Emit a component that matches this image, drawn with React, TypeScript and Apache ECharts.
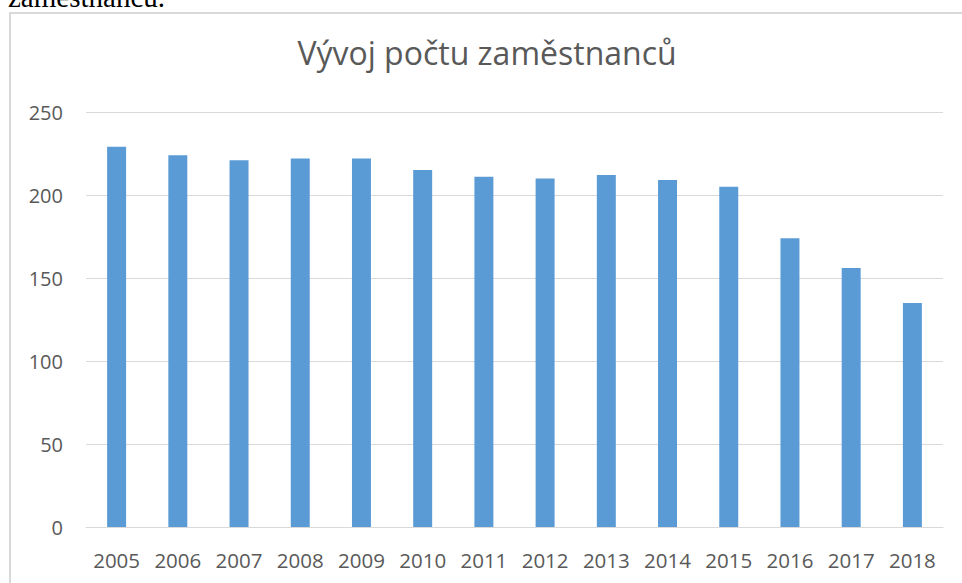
import React, { useEffect, useRef } from "react";
import * as echarts from "echarts";

const categories = ["2005", "2006", "2007", "2008", "2009", "2010", "2011", "2012", "2013", "2014", "2015", "2016", "2017", "2018"];
const employees = [229, 224, 221, 222, 222, 215, 211, 210, 212, 209, 205, 174, 156, 135];
const yTicks = [0, 50, 100, 150, 200, 250];
const chartTitle = "Vývoj počtu zaměstnanců";
const aboveText = "zaměstnanců.";

export default function App() {
  const ref = useRef<HTMLDivElement>(null);

  useEffect(() => {
    if (!ref.current) return;
    const chart = echarts.init(ref.current, undefined, { renderer: "svg" });
    const font = "'Open Sans', 'Noto Sans', sans-serif";
    chart.setOption({
      animation: false,
      title: {
        text: chartTitle,
        left: "center",
        top: 20,
        textStyle: { fontFamily: font, fontSize: 32, fontWeight: "normal", color: "#595959" },
      },
      grid: { left: 77, right: 22, top: 101, bottom: 56, containLabel: false },
      xAxis: {
        type: "category",
        data: categories,
        axisLine: { show: true, lineStyle: { color: "#d9d9d9", width: 1 } },
        axisTick: { show: false },
        axisLabel: { color: "#595959", fontFamily: font, fontSize: 20.5, margin: 22 },
      },
      yAxis: {
        type: "value",
        min: yTicks[0],
        max: yTicks[yTicks.length - 1],
        interval: yTicks[1] - yTicks[0],
        axisLine: { show: false },
        axisTick: { show: false },
        splitLine: { lineStyle: { color: "#d9d9d9", width: 1 } },
        axisLabel: { color: "#595959", fontFamily: font, fontSize: 20, margin: 23 },
      },
      series: [
        {
          type: "bar",
          data: employees,
          barWidth: "31%",
          itemStyle: { color: "#5b9bd5" },
        },
      ],
    });
    return () => chart.dispose();
  }, []);

  return (
    <div style={{ position: "fixed", left: 0, top: 0, width: 962, height: 583, overflow: "hidden", background: "#fff" }}>
      <div
        style={{
          position: "absolute",
          left: 8,
          top: -17,
          fontFamily: "'Liberation Serif', 'Times New Roman', serif",
          fontSize: 29,
          lineHeight: "29px",
          color: "#000",
          whiteSpace: "nowrap",
        }}
      >
        {aboveText}
      </div>
      <div
        style={{
          position: "absolute",
          left: 9,
          top: 12,
          width: 1000,
          height: 1000,
          border: "2px solid #d9d9d9",
          boxSizing: "border-box",
        }}
      />
      <div ref={ref} style={{ position: "absolute", left: 9, top: 11, width: 956, height: 572 }} />
    </div>
  );
}
